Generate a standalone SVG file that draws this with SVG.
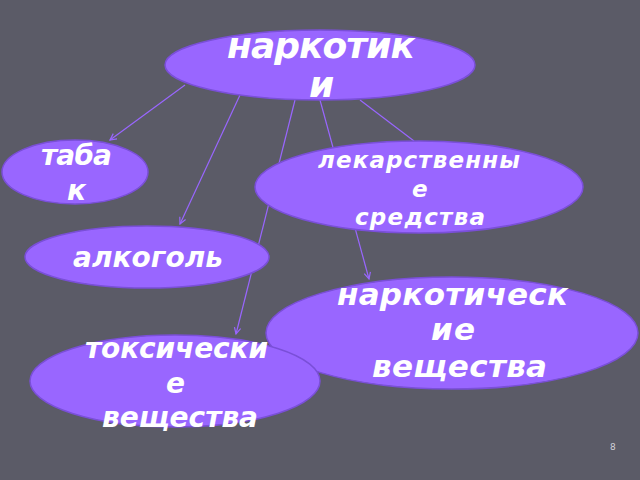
<svg xmlns="http://www.w3.org/2000/svg" width="640" height="480" viewBox="0 0 640 480">
<defs>
<style>
.node ellipse{fill:#9966ff;stroke:#7a4fd8;stroke-width:1.5}
.lbl{font-family:"DejaVu Sans","Liberation Sans",sans-serif;font-weight:bold;font-style:italic;fill:#ffffff}
.conn line{stroke:#9966ff;stroke-width:1.2;fill:none}
.arr{marker-end:url(#ah)}
</style>
<marker id="ah" viewBox="0 0 10 10" refX="9" refY="5" markerWidth="8" markerHeight="8" orient="auto" markerUnits="userSpaceOnUse">
<path d="M1,1 L9,5 L1,9" fill="none" stroke="#9966ff" stroke-width="1.5"/>
</marker>
</defs>
<rect x="0" y="0" width="640" height="480" fill="#5b5b67"/>
<g id="connectors" class="conn">
<line class="arr" x1="185" y1="85" x2="110" y2="140"/>
<line class="arr" x1="240" y1="95" x2="180" y2="224"/>
<line class="arr" x1="295" y1="100" x2="236" y2="334"/>
<line class="arr" x1="320" y1="100" x2="369" y2="279"/>
<line x1="360" y1="100" x2="414" y2="141"/>
</g>
<g id="narkotiki" class="node">
<ellipse cx="320" cy="65" rx="155" ry="35"/>
<text class="lbl" font-size="36" x="227" y="58" textLength="188" lengthAdjust="spacing">наркотик</text>
<text class="lbl" font-size="36" x="309" y="97">и</text>
</g>
<g id="tabak" class="node">
<ellipse cx="75" cy="172" rx="73" ry="32"/>
<text class="lbl" font-size="28" x="41" y="165" textLength="71" lengthAdjust="spacing">таба</text>
<text class="lbl" font-size="28" x="67" y="200">к</text>
</g>
<g id="lekarstvennye" class="node">
<ellipse cx="419" cy="187" rx="164" ry="46"/>
<text class="lbl" font-size="23" x="318" y="168" textLength="202" lengthAdjust="spacing">лекарственны</text>
<text class="lbl" font-size="23" x="412" y="197">е</text>
<text class="lbl" font-size="23" x="355" y="225" textLength="130" lengthAdjust="spacing">средства</text>
</g>
<g id="alkogol" class="node">
<ellipse cx="147" cy="257" rx="122" ry="31"/>
<text class="lbl" font-size="28" x="73" y="267" textLength="150" lengthAdjust="spacing">алкоголь</text>
</g>
<g id="narkoticheskie" class="node">
<ellipse cx="452" cy="333" rx="186" ry="56"/>
<text class="lbl" font-size="31" x="337" y="305" textLength="231" lengthAdjust="spacing">наркотическ</text>
<text class="lbl" font-size="31" x="431" y="340" textLength="44" lengthAdjust="spacing">ие</text>
<text class="lbl" font-size="31" x="372" y="377" textLength="175" lengthAdjust="spacing">вещества</text>
</g>
<g id="toksicheskie" class="node">
<ellipse cx="175" cy="381" rx="145" ry="46"/>
<text class="lbl" font-size="28" x="85" y="358" textLength="183" lengthAdjust="spacing">токсически</text>
<text class="lbl" font-size="28" x="166" y="393">е</text>
<text class="lbl" font-size="28" x="102" y="427" textLength="156" lengthAdjust="spacing">вещества</text>
</g>
<text x="610" y="450" font-family="DejaVu Sans, sans-serif" font-size="9" fill="#d0d0d8">8</text>
</svg>
